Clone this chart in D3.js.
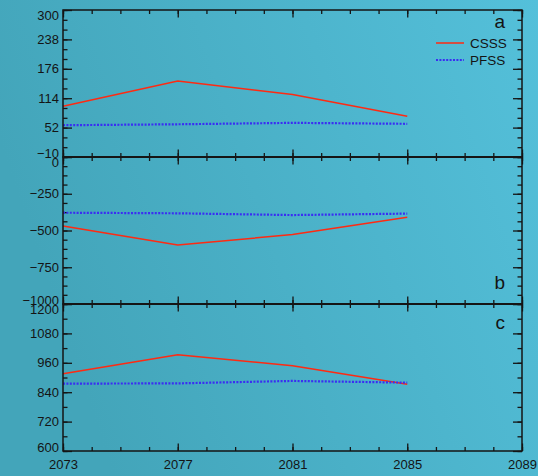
<!DOCTYPE html>
<html>
<head>
<meta charset="utf-8">
<script src="https://cdn.jsdelivr.net/npm/d3@7"></script>
<style>
html,body{margin:0;padding:0;background:#4aaec5;}
svg{display:block;}
text{font-family:"Liberation Sans",Arial,sans-serif;fill:#141414;}
</style>
</head>
<body>
<svg id="chart" width="538" height="476"></svg>
<script>
// ---- data ----
const years = [2073, 2077, 2081, 2085];
const xTicks = [2073, 2077, 2081, 2085, 2089];
const seriesNames = ["CSSS", "PFSS"];

const panelA_CSSS = [97, 150, 122, 76];
const panelA_PFSS = [57, 59, 62, 60];
const panelB_CSSS = [-469, -599, -528, -410];
const panelB_PFSS = [-379, -383, -395, -385];
const panelC_CSSS = [915, 993, 948, 872];
const panelC_PFSS = [875, 876, 886, 879];

const panelA_ticks = [-10, 52, 114, 176, 238, 300];
const panelB_ticks = [-1000, -750, -500, -250, 0];
const panelC_ticks = [600, 720, 840, 960, 1080, 1200];
const panelLabels = ["a", "b", "c"];

// ---- layout ----
const W = 538, H = 476;
const pLeft = 63, pRight = 522, pTop = 10, panelH = 147;
const svg = d3.select("#chart");

const defs = svg.append("defs");
const grad = defs.append("linearGradient").attr("id","bg")
  .attr("x1","0").attr("y1","0.3").attr("x2","1").attr("y2","0");
grad.append("stop").attr("offset","0").attr("stop-color","#43a5ba");
grad.append("stop").attr("offset","1").attr("stop-color","#54c0da");
svg.append("rect").attr("width",W).attr("height",H).attr("fill","url(#bg)");

const x = d3.scaleLinear().domain([2073, 2089]).range([pLeft, pRight]);

const panels = [
  {domain:[-10,300], ticks:panelA_ticks, minorStep:62/3, c:panelA_CSSS, p:panelA_PFSS},
  {domain:[-1000,0], ticks:panelB_ticks, minorStep:62.5, c:panelB_CSSS, p:panelB_PFSS},
  {domain:[600,1200], ticks:panelC_ticks, minorStep:60, c:panelC_CSSS, p:panelC_PFSS}
];

const axisColor = "#151515";
const minorYears = d3.range(2073, 2090, 1);

panels.forEach((pn, i) => {
  const y0 = pTop + i*panelH, y1 = y0 + panelH;
  const y = d3.scaleLinear().domain(pn.domain).range([y1, y0]);
  const g = svg.append("g");

  const minorVals = [];
  for (let v = pn.domain[0]; v <= pn.domain[1] + 1e-6; v += pn.minorStep) minorVals.push(v);

  // left axis
  g.append("g").attr("transform",`translate(${pLeft},0)`)
    .call(d3.axisLeft(y).tickValues(minorVals).tickSize(-4.5).tickFormat(""))
    .call(s=>s.select(".domain").remove());
  const la = g.append("g").attr("transform",`translate(${pLeft},0)`)
    .call(d3.axisLeft(y).tickValues(pn.ticks).tickSize(-9).tickPadding(4).tickFormat(d3.format("d")));
  la.select(".domain").remove();
  la.selectAll("text").style("font-size","13px").style("font-family","Liberation Sans, Arial, sans-serif").attr("fill","#141414")
    .attr("dy", d => d === pn.domain[1] ? "0.72em" : d === pn.domain[0] ? "0.0em" : "0.32em");
  // right axis
  g.append("g").attr("transform",`translate(${pRight},0)`)
    .call(d3.axisRight(y).tickValues(minorVals).tickSize(-4.5).tickFormat(""))
    .call(s=>s.select(".domain").remove());
  g.append("g").attr("transform",`translate(${pRight},0)`)
    .call(d3.axisRight(y).tickValues(pn.ticks).tickSize(-9).tickFormat(""))
    .call(s=>s.select(".domain").remove());
  // top & bottom x ticks (inward)
  [[y0, d3.axisTop],[y1, d3.axisBottom]].forEach(([yy, ax]) => {
    g.append("g").attr("transform",`translate(0,${yy})`)
      .call(ax(x).tickValues(minorYears).tickSize(-4).tickFormat(""))
      .call(s=>s.select(".domain").remove());
    g.append("g").attr("transform",`translate(0,${yy})`)
      .call(ax(x).tickValues(xTicks).tickSize(-7.5).tickFormat(""))
      .call(s=>s.select(".domain").remove());
  });
  g.selectAll(".tick line").attr("stroke",axisColor).attr("stroke-width",1.3);

  // lines
  const line = d3.line().x((d,k)=>x(years[k])).y(d=>y(d));
  g.append("path").datum(pn.c).attr("d",line).attr("fill","none")
    .attr("stroke","#ff2a12").attr("stroke-width",1.5);
  g.append("path").datum(pn.p).attr("d",line).attr("fill","none")
    .attr("stroke","#3a2ef2").attr("stroke-width",2.2).attr("stroke-dasharray","2,1.4");

  // frame
  g.append("rect").attr("x",pLeft).attr("y",y0).attr("width",pRight-pLeft).attr("height",panelH)
    .attr("fill","none").attr("stroke",axisColor).attr("stroke-width",1.5);
});

// thicker dividers
[pTop+panelH, pTop+2*panelH].forEach(yy=>{
  svg.append("line").attr("x1",pLeft).attr("x2",pRight).attr("y1",yy).attr("y2",yy)
    .attr("stroke",axisColor).attr("stroke-width",2.2);
});

// x labels
const xa = svg.append("g").attr("transform",`translate(0,${pTop+3*panelH})`)
  .call(d3.axisBottom(x).tickValues(xTicks).tickSize(0).tickPadding(9).tickFormat(d3.format("d")));
xa.select(".domain").remove();
xa.selectAll("text").style("font-size","13px").style("font-family","Liberation Sans, Arial, sans-serif").attr("fill","#141414");

// panel labels
const labelPos = [[505, 28],[505, 289],[505, 329]];
panelLabels.forEach((t,i)=>{
  svg.append("text").attr("x",labelPos[i][0]).attr("y",labelPos[i][1])
    .attr("text-anchor","end").style("font-size","19px").text(t);
});

// legend
const legY = [43, 60];
const legColors = ["#ff2a12","#3a2ef2"];
seriesNames.forEach((n,i)=>{
  const l = svg.append("line").attr("x1",436).attr("x2",464).attr("y1",legY[i]).attr("y2",legY[i])
    .attr("stroke",legColors[i]).attr("stroke-width", i? 2.2 : 1.5);
  if (i) l.attr("stroke-dasharray","2,1.4");
  svg.append("text").attr("x",470).attr("y",legY[i]+4.5).style("font-size","13.5px").text(n);
});
</script>
</body>
</html>
